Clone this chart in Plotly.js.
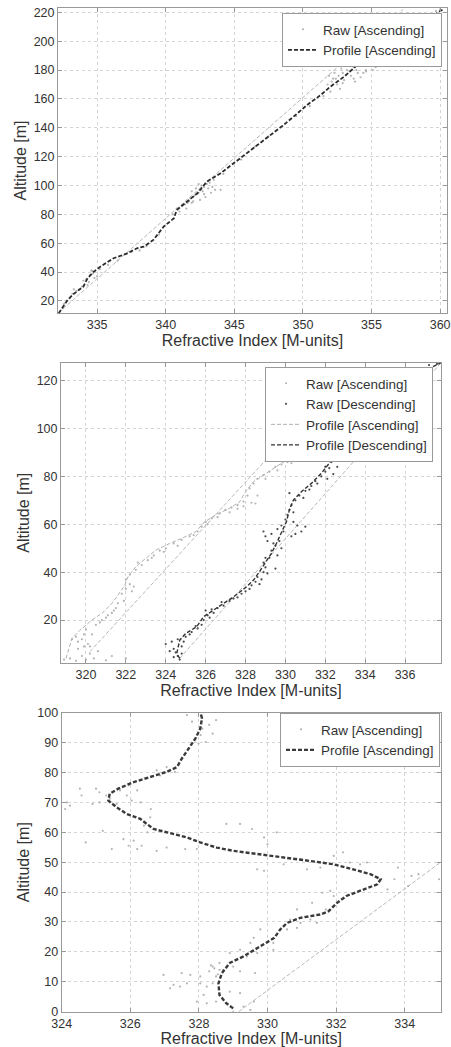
<!DOCTYPE html>
<html>
<head>
<meta charset="utf-8">
<script src="https://cdn.plot.ly/plotly-3.0.1.min.js"></script>
<style>html,body{margin:0;padding:0;background:#fff;}#chart{width:451px;height:1047px;}</style>
</head>
<body>
<div id="chart"></div>
<script>
// ---------- Panel 1 ----------
var p1ProfileX = [332.2,332.8,333.2,334.0,334.3,334.76,335.24,336.2,337.2,337.9,338.4,339.1,339.85,340.6,340.8,341.55,342.3,343.0,344.0,344.95,345.9,346.65,347.6,348.6,349.6,350.3,351.3,352.0,353.0,353.7,354.4,355.0,356.5,358.3,360.2];
var p1ProfileY = [11.5,20,24.2,30,35.7,40.3,43.8,49.6,53,56.5,57.6,62.3,71.5,77.3,83,88.8,94.6,102.7,108.5,115.4,122.3,128.1,135,142,150,155.8,162.7,168.5,175.4,181.2,187,192.3,200,211,222];
var p1RawX = [332.5,332.8,333.2,333.5,333.7,334.2,334.4,334.5,334.7,334.8,334.3,334.6,335.2,335.8,336.5,337.5,338.1,338.6,339.5,340.2,340.5,340.8,341.0,341.2,341.5,341.6,341.8,341.9,342.1,342.2,342.4,342.5,342.6,342.8,342.9,343.0,343.3,343.6,342.0,341.3,343.5,344.2,345.5,346.5,347.5,348.5,349.5,350.5,351.5,351.9,352.0,352.1,352.3,352.5,352.7,352.8,353.0,353.2,353.5,353.6,353.8,354.0,354.2,354.5,354.8,355.0,355.3,355.6,355.8,356.0,356.5,356.8,352.4,353.3,354.6,355.9,359.7,360.0,
  341.4,341.7,342.0,342.3,342.6,342.7,343.1,343.2,342.4,341.9,342.8,343.4,344.0,
  352.2,352.6,352.9,353.1,353.4,353.7,353.9,354.3,354.6,354.9,355.2,355.5,355.7,356.2,356.4,357.0,351.8,352.9,353.7,354.4,355.1,334.0,334.6,335.0,333.9,333.3,332.6,333.0];
var p1RawY = [15,20,25,27,28,35,33,38,39,36,31,41,42,45,48,54,55,58,66,74,80,84,82,86,84,88,91,96,93,98,95,90,97,99,92,101,95,97,89,87,104,108,118,127,134,141,148,155,162,176,165,172,178,170,167,181,173,180,176,185,172,178,175,183,192,187,182,189,185,191,193,190,174,184,179,188,221,222,
  87,89,92,94,100,96,98,102,101,88,94,99,97,
  174,176,178,183,179,182,180,186,180,185,189,186,193,188,186,192,170,171,174,178,180,34,41,37,30,28,18,22];
var p1RefX = [332.2, 357.3];
var p1RefY = [12, 222];

// ---------- Panel 2 ----------
var p2AscRawX = [318.9,319.2,319.5,319.8,320.0,320.2,320.4,320.6,321.0,321.3,322.0,319.6,319.9,320.1,319.8,319.3,319.5,319.9,320.0,320.3,319.6,320.2,320.5,320.8,321.0,321.3,321.5,321.6,321.9,321.8,322.0,322.2,322.4,322.3,322.0,322.2,322.5,322.8,323.1,323.4,323.7,324.0,324.4,324.8,325.2,325.6,325.8,326.0,326.3,326.7,327.0,327.3,327.6,327.9,328.3,328.5,327.6,327.9,328.1,328.2,328.4,328.6,328.9,329.2,329.5,329.8,330.1,330.4,330.8,331.1,331.4,331.7,332.0,332.2,332.4,
  320.7,321.1,321.4,322.6,323.3,323.9,324.6,325.4,326.1,326.6,327.2,328.6,329.0,329.6,330.3,331.0,331.6,332.1];
var p2AscRawY = [3.5,4,3,5,3.5,6,4,7,3.2,5,4,8,9,10,12,12,13,14,16,14,11,9,18,20,21,23,25,27,28,31,33,35,34,32,37,39,41,43,45,47,49,50,52,53.5,55,57,59,61,62.5,64.5,66,67,68,69.5,69,68.7,66.5,67.5,72,75,77,79,80.5,82,84,85,86,87.5,89,90.5,92,93,94,95.5,96.5,
  19,22,24,44,46,48.5,51,55.5,60,63,65,72,79,82.5,85.5,88,91.5,92.5];
var p2DescRawX = [324.0,324.3,324.4,324.6,324.7,324.5,324.8,324.6,324.2,325.0,325.3,325.6,325.8,325.9,326.1,326.0,326.4,326.6,326.9,327.2,327.6,328.0,328.3,328.5,328.6,328.9,329.0,329.1,328.9,329.2,329.3,329.5,329.1,329.0,328.9,329.3,329.6,329.8,330.0,330.1,330.2,330.3,330.5,330.7,331.0,331.3,331.5,331.8,332.0,332.2,332.3,332.5,332.7,332.9,330.5,330.8,331.0,330.6,330.3,329.8,329.6,329.5,330.2,332.0,337.2,337.6,
  325.2,325.5,326.2,326.3,326.8,327.4,327.8,328.2,328.7,328.8,329.0,329.4,329.7,329.9,330.4,330.4,330.9,331.2,331.6,332.1,332.4,332.6,332.8,333.0,324.4,324.8,324.9];
var p2DescRawY = [10,11,8,5,3.5,6.5,9,12,7,13,15,16.5,18,20,22,24,23,25,26,28,29.5,32,34.5,36,38,40,42,39.5,44,46,49,51,53,55,57,56,58,59.5,62,64,66,68,70,72,74,76,78,80,82,83.5,86,89,92,95,56,57,59,59.5,55,50,47,41.5,73,84,126.5,127,
  14,17.5,21,24.5,27.5,29,31,33,35,37,46,52,53,57,61,65,71,74.5,77,79,81,84,88,93,4.5,6,11];
var p2AscProfX = [319.0,319.3,319.7,320.3,320.9,321.3,321.6,321.95,322.1,322.5,323.0,323.5,324.2,324.8,325.5,325.95,326.5,327.2,327.7,328.0,328.4,329.05,329.8,330.4,331.05,331.7,332.2];
var p2AscProfY = [4,12.3,15.8,20,23.5,27,30.4,34.6,38,42.3,45.8,49.2,52,54.1,56.9,61,63.9,66.7,69.4,73.6,77.8,81.3,85.5,88.2,91,93.5,95.5];
var p2DescProfX = [324.7,324.55,324.7,325.0,325.55,325.9,326.4,326.9,327.4,328.05,328.4,328.7,329.05,329.3,329.55,329.8,330.05,330.2,330.4,330.8,331.3,331.8,332.2,332.55,332.8,333.4,334.5,336.0,337.8];
var p2DescProfY = [4,6,11.6,14.4,17.2,21.4,24.2,27,29.7,33.9,36.7,40.2,44.4,47.9,52,56.2,61.1,66,70.1,73.6,77.1,81.3,85.5,91,95.2,102,110,120,127.5];
var p2RefAX = [320.2, 330.9];
var p2RefAY = [6.8, 104];
var p2RefBX = [324.7, 337.8];
var p2RefBY = [4, 127.5];

// ---------- Panel 3 ----------
var p3ProfileX = [329.0,328.8,328.6,328.57,328.67,328.9,329.3,329.8,330.2,330.37,330.57,330.96,331.54,331.78,332.03,332.3,332.8,333.2,333.3,333.0,332.5,331.93,331.25,330.47,329.7,329.0,328.52,328.04,327.65,327.06,326.68,326.48,326.29,325.9,325.6,325.36,325.4,325.65,326.1,326.58,327.06,327.36,327.5,327.7,327.9,328.04,328.09,328.04];
var p3ProfileY = [1.1,2.8,5.6,9.5,12.9,16.3,18.5,21.9,24.7,27.5,29.7,31.4,32.5,33.6,36.4,38.7,40.9,42.6,44.3,46,47.6,49.3,50.4,51.6,52.7,53.8,54.9,56.6,58.3,60,61.1,62.8,64.5,66.1,68.4,70.6,72.9,74.6,76.8,78.5,80.2,81.8,84.6,88,91.4,94.7,98.1,100.3];
var p3RawX = [327.65,327.8,328.1,328.3,328.5,328.4,327.99,328.2,328.05,327.06,327.3,326.87,326.77,324.53,324.58,324.15,324.1,324.24,325.0,325.1,325.3,325.4,325.7,325.9,326.04,325.95,325.6,324.9,325.1,326.3,326.2,326.6,325.2,324.7,325.46,325.8,325.95,326.1,326.2,326.33,326.5,326.77,327.06,327.6,327.94,326.4,326.58,328.8,329.2,329.55,329.9,330.0,330.27,329.7,329.9,330.47,330.96,331.15,331.54,331.93,332.2,332.4,332.7,332.9,333.8,334.2,334.4,335.0,333.7,333.5,334.1,331.6,331.83,331.93,331.3,331.7,330.86,330.66,330.96,331.25,331.44,330.86,330.57,330.27,330.17,329.79,329.6,329.5,329.2,329.4,329.7,330.17,328.9,328.6,328.4,328.3,328.6,329.0,329.2,329.64,328.5,328.04,327.75,327.5,326.97,327.26,327.65,328.04,328.4,328.23,327.45,327.16,327.94,328.23,328.5,328.9,329.2,329.3,329.5,329.0,329.6,328.14,328.45,328.7,328.35,328.55];
var p3RawY = [99.2,97,94.7,95.9,97.5,93,89.7,90.2,92.5,81.8,80.2,79,80.7,74.6,72.3,70,67.8,68.9,74.6,73.4,72.3,71.2,74,72.3,70.6,75.7,69.5,69.5,70,70,74,67.8,60.5,56.6,54.4,57.7,55.5,57.2,54.4,55.5,60,53.8,54.9,54.4,54.4,62.2,65,62.8,62.8,61.1,58.3,56,60,47.6,47.1,49.3,51,47.6,48.2,52.1,53.3,49.9,49.3,49.9,48.2,45.4,46,44.3,44.3,40.9,42,39.8,40.4,38.7,36.4,34.2,34.2,30.8,29.7,30.8,29.7,28,27.5,25.8,23,27.5,24.7,23,20.7,18.5,19.6,20.7,19.6,16.3,15.1,13.5,14,15.1,13.5,12.9,11.8,11.8,12.3,12.9,12.3,9,9.5,9.5,9.5,8.4,8.4,7.8,3.4,2.8,3.4,6.7,6.2,1.7,0.6,0,3.4,5.6,14.5,13.8,15.5,12.5];
var p3RefX = [329.16, 335.05];
var p3RefY = [0, 50];

var lightGray = '#b4b4b4';
var darkGray = '#2a2a2a';
var refGray = '#b8b8b8';
var DASH = '4px,2px';

var traces = [
  {x:p1RefX, y:p1RefY, xaxis:'x', yaxis:'y', mode:'lines', line:{color:refGray, width:1, dash:DASH}, showlegend:false, hoverinfo:'skip'},
  {x:p1RawX, y:p1RawY, xaxis:'x', yaxis:'y', mode:'markers', name:'Raw [Ascending]', marker:{color:lightGray, size:2.2}, legend:'legend'},
  {x:p1ProfileX, y:p1ProfileY, xaxis:'x', yaxis:'y', mode:'lines', name:'Profile [Ascending]', line:{color:darkGray, width:1.8, dash:DASH}, legend:'legend'},

  {x:p2RefAX, y:p2RefAY, xaxis:'x2', yaxis:'y2', mode:'lines', line:{color:refGray, width:1, dash:DASH}, showlegend:false, hoverinfo:'skip'},
  {x:p2RefBX, y:p2RefBY, xaxis:'x2', yaxis:'y2', mode:'lines', line:{color:refGray, width:1, dash:DASH}, showlegend:false, hoverinfo:'skip'},
  {x:p2AscRawX, y:p2AscRawY, xaxis:'x2', yaxis:'y2', mode:'markers', name:'Raw [Ascending]', marker:{color:lightGray, size:2.2}, legend:'legend2'},
  {x:p2DescRawX, y:p2DescRawY, xaxis:'x2', yaxis:'y2', mode:'markers', name:'Raw [Descending]', marker:{color:'#4a4a4a', size:2.2}, legend:'legend2'},
  {x:p2AscProfX, y:p2AscProfY, xaxis:'x2', yaxis:'y2', mode:'lines', name:'Profile [Ascending]', line:{color:'#b0b0b0', width:1, dash:DASH}, legend:'legend2'},
  {x:p2DescProfX, y:p2DescProfY, xaxis:'x2', yaxis:'y2', mode:'lines', name:'Profile [Descending]', line:{color:'#333', width:1.4, dash:DASH}, legend:'legend2'},

  {x:p3RefX, y:p3RefY, xaxis:'x3', yaxis:'y3', mode:'lines', line:{color:refGray, width:1, dash:DASH}, showlegend:false, hoverinfo:'skip'},
  {x:p3RawX, y:p3RawY, xaxis:'x3', yaxis:'y3', mode:'markers', name:'Raw [Ascending]', marker:{color:lightGray, size:2.2}, legend:'legend3'},
  {x:p3ProfileX, y:p3ProfileY, xaxis:'x3', yaxis:'y3', mode:'lines', name:'Profile [Ascending]', line:{color:'#3a3a3a', width:2.4, dash:DASH}, legend:'legend3'}
];

var FONT = 'Liberation Sans, Arial, sans-serif';
function xax(domain, range, dtick, anchor) {
  return {domain:domain, range:range, dtick:dtick, anchor:anchor, showgrid:true, gridcolor:'#d4d4d4', griddash:'dot', gridwidth:1,
    zeroline:false, showline:true, linecolor:'#999', linewidth:1, mirror:'ticks', ticks:'inside', ticklen:4, tickcolor:'#999',
    tickfont:{family:FONT, size:12.5, color:'#333'},
    title:{text:'Refractive Index [M-units]', font:{family:FONT, size:16, color:'#333'}, standoff:3}};
}
function yax(domain, range, dtick, anchor) {
  return {domain:domain, range:range, dtick:dtick, anchor:anchor, showgrid:true, gridcolor:'#d4d4d4', griddash:'dot', gridwidth:1,
    zeroline:false, showline:true, linecolor:'#999', linewidth:1, mirror:'ticks', ticks:'inside', ticklen:4, tickcolor:'#999',
    tickfont:{family:FONT, size:12.5, color:'#333'},
    title:{text:'Altitude [m]', font:{family:FONT, size:16, color:'#333'}, standoff:3}};
}
function leg(x, y) {
  return {x:x, y:y, xanchor:'right', yanchor:'top', bgcolor:'#fff', bordercolor:'#999', borderwidth:1,
    font:{family:FONT, size:13.5, color:'#333'}, tracegroupgap:0, itemwidth:30};
}

var layout = {
  width:451, height:1047, margin:{l:0, r:0, t:0, b:0}, paper_bgcolor:'#fff', plot_bgcolor:'#fff',
  xaxis: xax([0.1286,0.9911], [332.15,360.5], 5, 'y'),
  yaxis: yax([0.7011,0.99236], [11.7,223], 20, 'x'),
  xaxis2: xax([0.1353,0.9778], [318.75,337.8], 2, 'y2'),
  yaxis2: yax([0.36705,0.65358], [2.2,127.5], 20, 'x2'),
  xaxis3: xax([0.1368,0.9772], [324,335.05], 2, 'y3'),
  yaxis3: yax([0.03372,0.31929], [0,100], 10, 'x3'),
  legend: leg(0.980, 0.9876),
  legend2: leg(0.9601, 0.6495),
  legend3: leg(0.9756, 0.3190),
  showlegend:true
};

Plotly.newPlot('chart', traces, layout, {displayModeBar:false, staticPlot:true});
</script>
</body>
</html>
